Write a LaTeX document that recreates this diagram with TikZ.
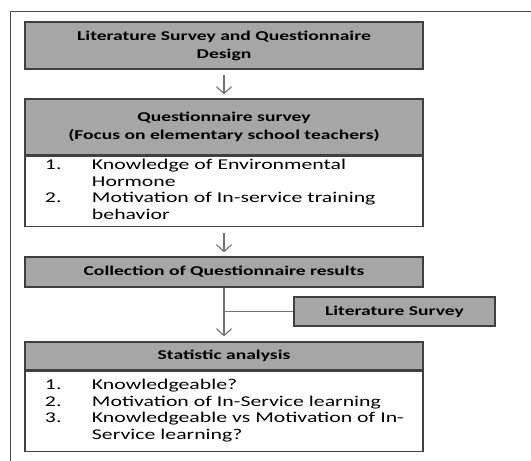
\documentclass[tikz,border=0pt]{standalone}
\usepackage{fontspec}
\setmainfont{Carlito}[FakeStretch=1.45]
\usetikzlibrary{positioning,arrows.meta}

\begin{document}
\begin{tikzpicture}[
  x=1pt, y=-1pt,
  font=\fontsize{15}{16.5}\selectfont,
  head/.style={draw=black!75, line width=1.2pt, fill=black!35, align=center,
               minimum width=398pt, inner sep=0pt,
               font=\fontsize{13.5}{18}\selectfont\bfseries},
  body/.style={draw=black!75, line width=1.2pt, fill=white, align=left,
               text width=358pt, inner xsep=20pt, inner ysep=0pt,
               minimum width=398pt},
  link/.style={-{Straight Barb[length=7pt, width=15pt, line width=1.1pt]},
               line width=1.1pt, black!55},
  frame/.style={line width=0.9pt, black!70},
]
  \useasboundingbox (0,0) rectangle (531,461);
  \draw[frame] (10,461) -- (10,11) -- (531,11);

  % main column
  \node[head, minimum height=47pt] (design) at (224,45.5)
    {Literature Survey and Questionnaire\\Design};

  \node[head, minimum height=56pt] (survey) at (224,127)
    {Questionnaire survey\\(Focus on elementary school teachers)};
  \node[body, minimum height=70pt, below=0pt of survey] (surveyitems)
    {\raisebox{3pt}{\begin{tabular}{@{}p{47pt}@{}l@{}}
       1. & Knowledge of Environmental\\
          & Hormone\\
       2. & Motivation of In-service training\\
          & behavior
     \end{tabular}}};

  \node[head, minimum height=30pt] (collect) at (224,272)
    {Collection of Questionnaire results};

  \node[head, minimum height=28pt] (stats) at (224,356)
    {Statistic analysis};
  \node[body, minimum height=80pt, below=0pt of stats] (statsitems)
    {\begin{tabular}{@{}p{47pt}@{}l@{}}
       1. & Knowledgeable?\\
       2. & Motivation of In-Service learning\\
       3. & Knowledgeable vs Motivation of In-\\
          & Service learning?
     \end{tabular}};

  % side input
  \node[head, minimum width=201pt, minimum height=29pt] (litsurvey) at (394.5,311.5)
    {Literature Survey};

  % connectors
  \draw[link, shorten <=5pt, shorten >=4pt] (design) -- (survey);
  \draw[link, shorten <=6pt, shorten >=4pt] (surveyitems) -- (collect);
  \draw[link, shorten >=5pt] (collect) -- (stats);
  \draw[line width=1.1pt, black!55] (litsurvey.west) -- (litsurvey.west -| collect.south);
\end{tikzpicture}
\end{document}
